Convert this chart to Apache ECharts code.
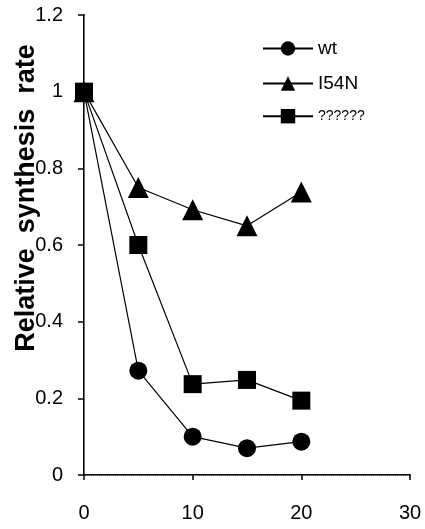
<!DOCTYPE html>
<html><head><meta charset="utf-8">
<script src="https://cdn.jsdelivr.net/npm/echarts@6/dist/echarts.min.js"></script>
<style>html,body{margin:0;padding:0;background:#fff}#c{width:425px;height:529px}</style>
</head><body><div id="c"></div>
<script>
const times = [0, 5, 10, 15, 20];
const wt = [1, 0.272, 0.100, 0.070, 0.087];
const i54n = [1, 0.750, 0.692, 0.650, 0.738];
const unknown = [1, 0.600, 0.237, 0.248, 0.194];
const seriesNames = ['wt', 'I54N', '??????'];
const xTicks = [0, 10, 20, 30];
const yTicks = [0, 0.2, 0.4, 0.6, 0.8, 1, 1.2];
const yTitle = 'Relative  synthesis  rate';

const pair = arr => times.map((t, i) => [t, arr[i]]);
const font = 'Liberation Sans, Arial, sans-serif';
const chart = echarts.init(document.getElementById('c'));
chart.setOption({
  animation: false,
  grid: { left: 84, top: 15, right: 15, bottom: 54 },
  graphic: [{
    type: 'text', x: 27, y: 198, rotation: Math.PI / 2,
    style: { text: yTitle, fill: '#000', font: 'bold 27px ' + font,
      textAlign: 'center', textVerticalAlign: 'middle' }
  }],
  legend: {
    orient: 'vertical', left: 257, top: 34, itemWidth: 50, itemHeight: 18, itemGap: 16,
    textStyle: { color: '#000', fontFamily: font, fontSize: 19 },
    data: [
      { name: 'wt' },
      { name: 'I54N' },
      { name: '??????', textStyle: { fontSize: 14 } }
    ]
  },
  xAxis: [{
    type: 'value', min: xTicks[0], max: xTicks[xTicks.length - 1], interval: 10,
    axisLine: { lineStyle: { color: '#000', width: 2 } },
    axisTick: { show: true, length: 5, lineStyle: { color: '#000', width: 1.5 } },
    axisLabel: { color: '#000', fontSize: 20, fontFamily: font, margin: 28 },
    splitLine: { show: false }
  }, {
    type: 'value', position: 'top', min: 0, max: 30,
    axisLine: { show: true, lineStyle: { color: '#888', type: 'dotted', width: 1 } },
    axisTick: { show: false }, axisLabel: { show: false }, splitLine: { show: false }
  }],
  yAxis: [{
    type: 'value', min: yTicks[0], max: yTicks[yTicks.length - 1], interval: 0.2,
    axisLine: { show: true, lineStyle: { color: '#000', width: 2 } },
    axisTick: { show: true, length: 6, lineStyle: { color: '#000', width: 1.5 } },
    axisLabel: { color: '#000', fontSize: 20, fontFamily: font, margin: 21,
      formatter: v => String(Math.round(v * 10) / 10) },
    splitLine: { show: false }
  }, {
    type: 'value', position: 'right', min: 0, max: 1.2,
    axisLine: { show: true, lineStyle: { color: '#888', type: 'dotted', width: 1 } },
    axisTick: { show: false }, axisLabel: { show: false }, splitLine: { show: false }
  }],
  series: [
    { name: seriesNames[0], type: 'line', data: pair(wt), symbol: 'circle', symbolSize: 18,
      itemStyle: { color: '#000' }, lineStyle: { color: '#000', width: 1.2 }, z: 3 },
    { name: seriesNames[1], type: 'line', data: pair(i54n), symbol: 'triangle', symbolSize: 21,
      itemStyle: { color: '#000' }, lineStyle: { color: '#000', width: 1.2 }, z: 2 },
    { name: seriesNames[2], type: 'line', data: pair(unknown), symbol: 'rect', symbolSize: 18,
      itemStyle: { color: '#000' }, lineStyle: { color: '#000', width: 1.2 }, z: 4 }
  ]
});
</script></body></html>
